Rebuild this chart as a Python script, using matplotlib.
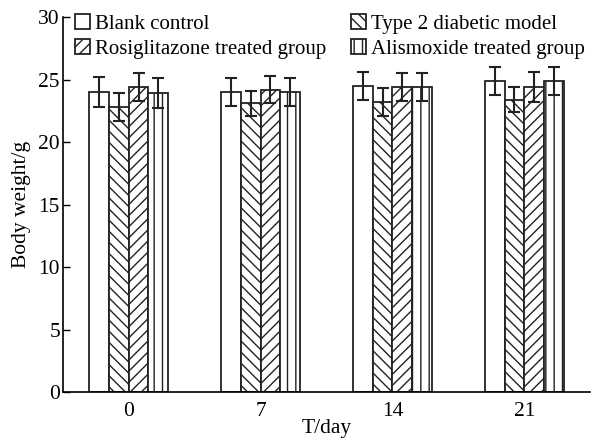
import matplotlib
matplotlib.use("Agg")
import matplotlib.pyplot as plt
import numpy as np

plt.rcParams['font.family'] = ['Liberation Serif', 'DejaVu Serif']
plt.rcParams['hatch.linewidth'] = 1.0

# Data
days = ['0', '7', '14', '21']
groups = ['Blank control', 'Type 2 diabetic model',
          'Rosiglitazone treated group', 'Alismoxide treated group']
blank = [24.0, 24.0, 24.5, 24.9]
blank_err = [1.2, 1.1, 1.1, 1.1]
t2dm = [22.8, 23.1, 23.2, 23.4]
t2dm_err = [1.1, 1.0, 1.1, 1.0]
rosi = [24.4, 24.2, 24.4, 24.4]
rosi_err = [1.1, 1.1, 1.1, 1.2]
alis = [23.9, 24.0, 24.4, 24.9]
alis_err = [1.2, 1.1, 1.1, 1.1]

series = [blank, t2dm, rosi, alis]
errors = [blank_err, t2dm_err, rosi_err, alis_err]
hatches = ['', '\\\\\\', '///', '||']

fig = plt.figure(figsize=(5.92, 4.41), dpi=100)
ax = fig.add_axes([0.106, 0.111, 0.891, 0.85])

x = np.arange(len(days))
w = 0.15
for i, (vals, errs, h, lab) in enumerate(zip(series, errors, hatches, groups)):
    pos = x + (i - 1.5) * w
    ax.bar(pos, vals, w, color='white', edgecolor='#222222', linewidth=1.3,
           hatch=h, label=lab, zorder=2)
    ax.errorbar(pos, vals, yerr=errs, fmt='none', ecolor='#222222',
                elinewidth=1.5, capsize=4, capthick=1.5, zorder=3)

fs = 15.5
ax.set_xlim(-0.5, 3.5)
ax.set_ylim(0, 30)
ax.set_yticks(range(0, 31, 5))
ax.set_xticks(x)
ax.set_xticklabels(days)
ax.tick_params(axis='y', direction='in', length=5, labelsize=fs, width=1, pad=2)
ax.tick_params(axis='x', length=0, labelsize=fs, pad=7)
ax.spines['top'].set_visible(False)
ax.spines['right'].set_visible(False)
ax.spines['left'].set_linewidth(1.2)
ax.spines['bottom'].set_linewidth(1.2)
ax.set_xlabel('T/day', fontsize=fs, labelpad=-1)
ax.set_ylabel('Body weight/g', fontsize=fs, labelpad=5)

handles, labels = ax.get_legend_handles_labels()
order = [0, 2, 1, 3]
ax.legend([handles[k] for k in order], [labels[k] for k in order],
          ncol=2, loc='upper left', bbox_to_anchor=(0.024, 1.008),
          frameon=False, fontsize=15, handlelength=0.7, handleheight=0.7,
          handletextpad=0.25, columnspacing=1.2, labelspacing=0.25,
          borderpad=0, borderaxespad=0)

fig.savefig('out.png', dpi=100)
